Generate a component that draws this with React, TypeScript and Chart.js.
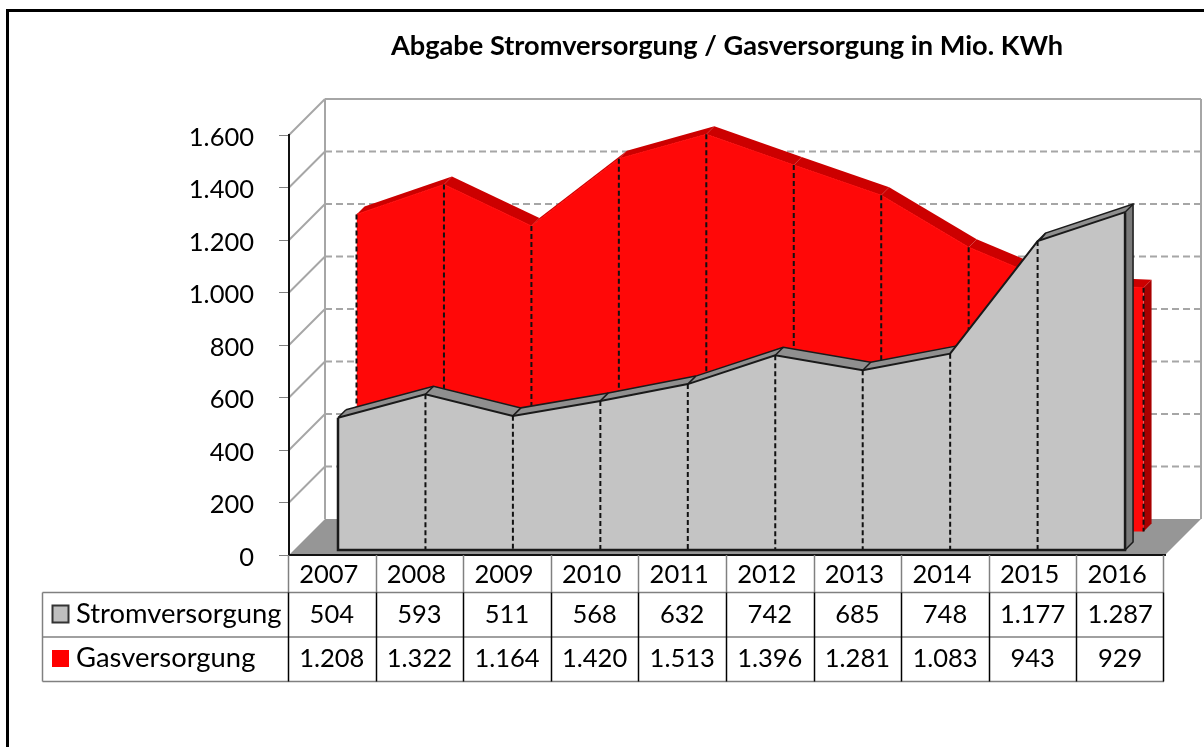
import React, { useEffect, useRef } from "react";
import { Chart, registerables } from "chart.js";

const years = ["2007", "2008", "2009", "2010", "2011", "2012", "2013", "2014", "2015", "2016"];
const stromversorgung = [504, 593, 511, 568, 632, 742, 685, 748, 1177, 1287];
const gasversorgung = [1208, 1322, 1164, 1420, 1513, 1396, 1281, 1083, 943, 929];
const yTicks = [0, 200, 400, 600, 800, 1000, 1200, 1400, 1600];
const chartTitle = "Abgabe Stromversorgung / Gasversorgung in Mio. KWh";
const seriesNames = ["Stromversorgung", "Gasversorgung"];

const FONT = "Lato, Carlito, sans-serif";
const de = (v: number) => String(v).replace(/\B(?=(\d{3})+$)/g, ".");
const toPoints = (a: number[]) => a.map((y, x) => ({ x, y }));

const WALL = 36;
const BAND = 8;
const STYLES = [
  { face: "#c4c4c4", band: "#8f8f8f", side: "#7a7a7a", xId: "xS", yId: "yS", outline: true },
  { face: "#ff0808", band: "#cc0000", side: "#a80000", xId: "xG", yId: "yG", outline: false },
];
const DATA = [stromversorgung, gasversorgung];

function line(ctx: CanvasRenderingContext2D, x1: number, y1: number, x2: number, y2: number) {
  ctx.beginPath();
  ctx.moveTo(x1, y1);
  ctx.lineTo(x2, y2);
  ctx.stroke();
}

function poly(ctx: CanvasRenderingContext2D, pts: number[][]) {
  ctx.beginPath();
  pts.forEach(([x, y], i) => (i ? ctx.lineTo(x, y) : ctx.moveTo(x, y)));
  ctx.closePath();
  ctx.fill();
}

function geom(chart: any, index: number) {
  const st = STYLES[index];
  const sx = chart.scales[st.xId];
  const sy = chart.scales[st.yId];
  const pts = DATA[index].map((v, i) => [sx.getPixelForValue(i), sy.getPixelForValue(v)]);
  return { st, pts, base: sy.getPixelForValue(0) };
}

const extrude = {
  id: "extrude",
  beforeDraw(chart: any) {
    const { ctx, scales } = chart;
    const y = scales.y;
    const l = chart.chartArea.left;
    const r = chart.chartArea.right;
    const y0 = y.getPixelForValue(0);
    const yTop = y.getPixelForValue(1600);
    ctx.save();
    // outer frame
    ctx.strokeStyle = "#000";
    ctx.lineWidth = 3;
    ctx.beginPath();
    ctx.moveTo(7.5, 747);
    ctx.lineTo(7.5, 10.5);
    ctx.lineTo(1204, 10.5);
    ctx.stroke();
    // floor
    ctx.fillStyle = "#969696";
    poly(ctx, [[l, y0], [l + WALL, y0 - WALL], [r + WALL, y0 - WALL], [r, y0]]);
    // wall grid
    ctx.strokeStyle = "#a6a6a6";
    ctx.lineWidth = 2;
    yTicks.forEach((t) => {
      const py = y.getPixelForValue(t);
      if (t > 0) line(ctx, l, py, l + WALL, py - WALL);
      if (t > 0 && t < 1600) {
        ctx.setLineDash([7, 4]);
        line(ctx, l + WALL, py - WALL, r + WALL, py - WALL);
        ctx.setLineDash([]);
      }
    });
    line(ctx, l + WALL, yTop - WALL, r + WALL, yTop - WALL);
    line(ctx, l + WALL, yTop - WALL, l + WALL, y0 - WALL);
    line(ctx, r + WALL, yTop - WALL, r + WALL, y0 - WALL);
    ctx.restore();
  },
  beforeDatasetDraw(chart: any, args: any) {
    const { ctx } = chart;
    const { st, pts, base } = geom(chart, args.index);
    const n = pts.length;
    ctx.save();
    // right side
    const [xr, yr] = pts[n - 1];
    ctx.fillStyle = st.side;
    poly(ctx, [[xr, yr], [xr + BAND, yr - BAND], [xr + BAND, base - BAND], [xr, base]]);
    // top band
    ctx.fillStyle = st.band;
    for (let i = 0; i < n - 1; i++) {
      const [a, b] = pts[i];
      const [c, d] = pts[i + 1];
      poly(ctx, [[a, b], [c, d], [c + BAND, d - BAND], [a + BAND, b - BAND]]);
    }
    if (st.outline) {
      ctx.strokeStyle = "#1a1a1a";
      ctx.lineWidth = 1.5;
      ctx.beginPath();
      pts.forEach(([x, yy], i) => (i ? ctx.lineTo(x + BAND, yy - BAND) : ctx.moveTo(x + BAND, yy - BAND)));
      ctx.lineTo(xr + BAND, base - BAND);
      ctx.lineTo(xr, base);
      ctx.stroke();
      pts.forEach(([x, yy]) => line(ctx, x, yy, x + BAND, yy - BAND));
    }
    ctx.restore();
  },
  afterDatasetDraw(chart: any, args: any) {
    const { ctx } = chart;
    const { st, pts, base } = geom(chart, args.index);
    const n = pts.length;
    ctx.save();
    ctx.strokeStyle = "#111";
    ctx.lineWidth = 2;
    ctx.setLineDash([5, 3]);
    pts.forEach(([x, yy], i) => {
      if (st.outline && (i === 0 || i === n - 1)) return;
      line(ctx, x, yy, x, base);
    });
    ctx.setLineDash([]);
    if (st.outline) {
      ctx.strokeStyle = "#1a1a1a";
      ctx.lineWidth = 2.5;
      ctx.beginPath();
      ctx.moveTo(pts[0][0], pts[0][1]);
      ctx.lineTo(pts[0][0], base);
      ctx.lineTo(pts[n - 1][0], base);
      ctx.lineTo(pts[n - 1][0], pts[n - 1][1]);
      ctx.stroke();
    }
    ctx.restore();
  },
  afterDraw(chart: any) {
    const { ctx, chartArea } = chart;
    const l = chartArea.left;
    const r = chartArea.right;
    const col = (r - l) / years.length;
    const rows = [592.5, 637, 681.5];
    const left = 42.5;
    ctx.save();
    // grid of the data table
    ctx.strokeStyle = "#808080";
    ctx.lineWidth = 1.5;
    rows.forEach((y) => line(ctx, left, y, r - 1, y));
    line(ctx, left, rows[0], left, rows[2]);
    ctx.lineWidth = 1.5;
    for (let i = 0; i <= years.length; i++) {
      const x = Math.round(l + col * i - (i === years.length ? 1 : 0)) - 0.5;
      ctx.strokeStyle = "#808080";
      line(ctx, x, chartArea.bottom, x, rows[0]);
      ctx.strokeStyle = "#000";
      line(ctx, x, rows[0], x, rows[2]);
    }
    // legend keys
    ctx.fillStyle = "#bfbfbf";
    ctx.fillRect(52.5, 605.5, 16, 17);
    ctx.strokeStyle = "#333";
    ctx.lineWidth = 2;
    ctx.strokeRect(52.5, 605.5, 16, 17);
    ctx.fillStyle = "#ff0000";
    ctx.fillRect(52, 650, 17, 17);
    // text of the data table
    ctx.fillStyle = "#000";
    ctx.textBaseline = "middle";
    ctx.textAlign = "left";
    ctx.font = `27.4px ${FONT}`;
    ctx.fillText(seriesNames[0], 76, 614);
    ctx.fillText(seriesNames[1], 76, 658);
    ctx.font = `25.5px ${FONT}`;
    ctx.textAlign = "center";
    DATA.forEach((arr, ri) => {
      arr.forEach((v, i) => ctx.fillText(de(v), l + col * (i + 0.5) - 1, ri === 0 ? 615 : 659));
    });
    ctx.restore();
  },
};

Chart.register(extrude, ...registerables);

export default function App() {
  const ref = useRef<HTMLCanvasElement>(null);
  useEffect(() => {
    const chart = new Chart(ref.current as HTMLCanvasElement, {
      type: "line",
      data: {
        labels: years,
        datasets: [
          {
            label: seriesNames[0],
            data: toPoints(stromversorgung),
            xAxisID: "xS",
            yAxisID: "yS",
            borderColor: "#1a1a1a",
            borderWidth: 2,
            backgroundColor: STYLES[0].face,
            fill: "origin",
            pointRadius: 0,
            tension: 0,
            clip: false,
          },
          {
            label: seriesNames[1],
            data: toPoints(gasversorgung),
            xAxisID: "xG",
            yAxisID: "yG",
            borderColor: STYLES[1].face,
            borderWidth: 1,
            backgroundColor: STYLES[1].face,
            fill: "origin",
            pointRadius: 0,
            tension: 0,
            clip: false,
          },
        ],
      },
      options: {
        animation: false,
        responsive: false,
        layout: { padding: { left: 0, right: 39, top: 0, bottom: 155 } },
        plugins: {
          legend: { display: false },
          tooltip: { enabled: false },
          title: {
            display: true,
            text: chartTitle,
            fullSize: false,
            color: "#000",
            font: { family: FONT, size: 27.2, weight: "bold", lineHeight: 1.2 },
            padding: { top: 30, bottom: 72.36 },
          },
        },
        scales: {
          x: {
            type: "category",
            offset: true,
            position: "bottom",
            border: { color: "#111", width: 2 },
            grid: { display: false, drawTicks: false },
            ticks: {
              color: "#000",
              font: { family: FONT, size: 25.5 },
              padding: 4,
              labelOffset: -4,
              autoSkip: false,
              maxRotation: 0,
              minRotation: 0,
            },
            afterFit: (s: any) => {
              s.height = 37;
            },
          },
          y: {
            type: "linear",
            min: 0,
            max: 1600,
            position: "left",
            border: { color: "#111", width: 2 },
            grid: { drawOnChartArea: false, color: "#808080", tickLength: 10 },
            ticks: {
              color: "#000",
              font: { family: FONT, size: 25.5 },
              padding: 25,
              labelOffset: 2.5,
              stepSize: 200,
              callback: (v: any) => de(Number(v)),
            },
            afterFit: (s: any) => {
              s.width = 289;
            },
          },
          xS: { type: "linear", display: false, min: -0.5603, max: 9.4567 },
          yS: { type: "linear", display: false, min: -19.05, max: 1580.95 },
          xG: { type: "linear", display: false, min: -0.7719, max: 9.2451 },
          yG: { type: "linear", display: false, min: -89.52, max: 1510.48 },
        },
      },
    } as any);
    return () => chart.destroy();
  }, []);
  return (
    <div style={{ position: "fixed", left: 0, top: 0, width: 1204, height: 747, background: "#fff" }}>
      <canvas ref={ref} width={1204} height={747} style={{ display: "block" }} />
    </div>
  );
}
